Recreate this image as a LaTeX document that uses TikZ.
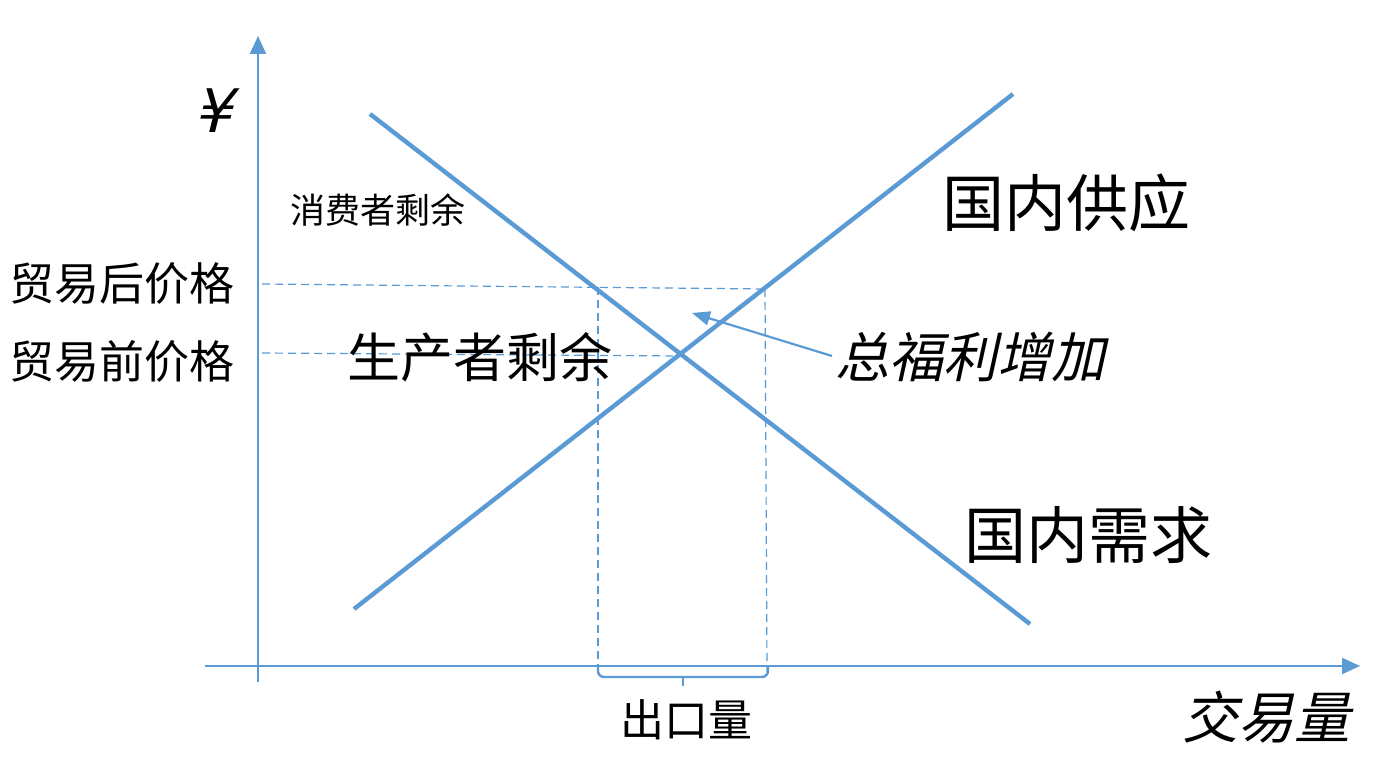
\documentclass[tikz,border=0pt]{standalone}
\usepackage{fontspec}
\setmainfont{Liberation Sans}
\newfontfamily\cjk{Noto Sans CJK SC}
\newfontfamily\cjkit{Noto Sans CJK SC}[FakeSlant=0.22]
\newfontfamily\yenit{DejaVu Sans}[FakeSlant=0.25]
\usetikzlibrary{arrows.meta}
\definecolor{lblue}{HTML}{5B9BD5}
\begin{document}
\begin{tikzpicture}[x=0.5pt,y=-0.5pt,
  axis/.style={draw=lblue,line width=1.1pt,-{Triangle[length=9pt,width=8pt]}},
  curve/.style={draw=lblue,line width=2.2pt},
  guide/.style={draw=lblue,line width=0.6pt,dash pattern=on 4pt off 2.5pt},
  lbl/.style={inner sep=0pt,anchor=center,text=black}]
\useasboundingbox (0,0) rectangle (1384,769);
\fill[white] (0,0) rectangle (1384,769);
% axes
\coordinate (ybot) at (258,682);
\coordinate (ytop) at (258,36);
\coordinate (xl) at (205,666);
\coordinate (xr) at (1360,666);
\draw[axis] (ybot) -- (ytop);
\draw[axis] (xl) -- (xr);
% curves
\coordinate (d1) at (370,114);
\coordinate (d2) at (1030,624);
\coordinate (s1) at (354,609);
\coordinate (s2) at (1013,94);
\draw[curve] (d1) -- (d2);
\draw[curve] (s1) -- (s2);
% guides
\coordinate (ga) at (262,284);
\coordinate (gb) at (765,289);
\coordinate (gc) at (262,353);
\coordinate (gd) at (681,356);
\coordinate (ge) at (598,287);
\coordinate (gf) at (598,672);
\coordinate (gg) at (767,672);
\draw[guide] (ga) -- (gb);
\draw[guide] (gc) -- (gd);
\draw[guide] (ge) -- (gf);
\draw[guide] (gb) -- (gg);
% brace
\coordinate (bl) at (598,666);
\coordinate (br) at (768,666);
\coordinate (bm) at (683,686);
\draw[draw=lblue,line width=1.2pt,rounded corners=3pt]
  (bl) -- (598,677) -- (768,677) -- (br);
\draw[draw=lblue,line width=1.2pt] (683,677) -- (bm);
% arrow
\coordinate (at) at (692,313);
\coordinate (af) at (832,356);
\draw[draw=lblue,line width=1.1pt,-{Triangle[length=9pt,width=7pt]}] (af) -- (at);
% labels
\node[lbl,font=\yenit\fontsize{30}{30}\selectfont] (yen) at (213,111) {¥};
\node[lbl,font=\cjk\fontsize{17.5}{17.5}\selectfont] (cs) at (378,210) {消费者剩余};
\node[lbl,font=\cjk\fontsize{22.5}{22.5}\selectfont] (pa) at (122,284) {贸易后价格};
\node[lbl,font=\cjk\fontsize{22.5}{22.5}\selectfont] (pb) at (122,361) {贸易前价格};
\node[lbl,font=\cjk\fontsize{26.5}{26.5}\selectfont] (ps) at (480,357) {生产者剩余};
\node[lbl,font=\cjk\fontsize{31}{31}\selectfont] (sup) at (1066,203) {国内供应};
\node[lbl,font=\cjkit\fontsize{27}{27}\selectfont] (tw) at (970,357) {总福利增加};
\node[lbl,font=\cjk\fontsize{31}{31}\selectfont] (dem) at (1088,535) {国内需求};
\node[lbl,font=\cjk\fontsize{22}{22}\selectfont] (ex) at (686,720) {出口量};
\node[lbl,font=\cjkit\fontsize{28}{28}\selectfont] (vol) at (1266,717) {交易量};
\end{tikzpicture}
\end{document}
